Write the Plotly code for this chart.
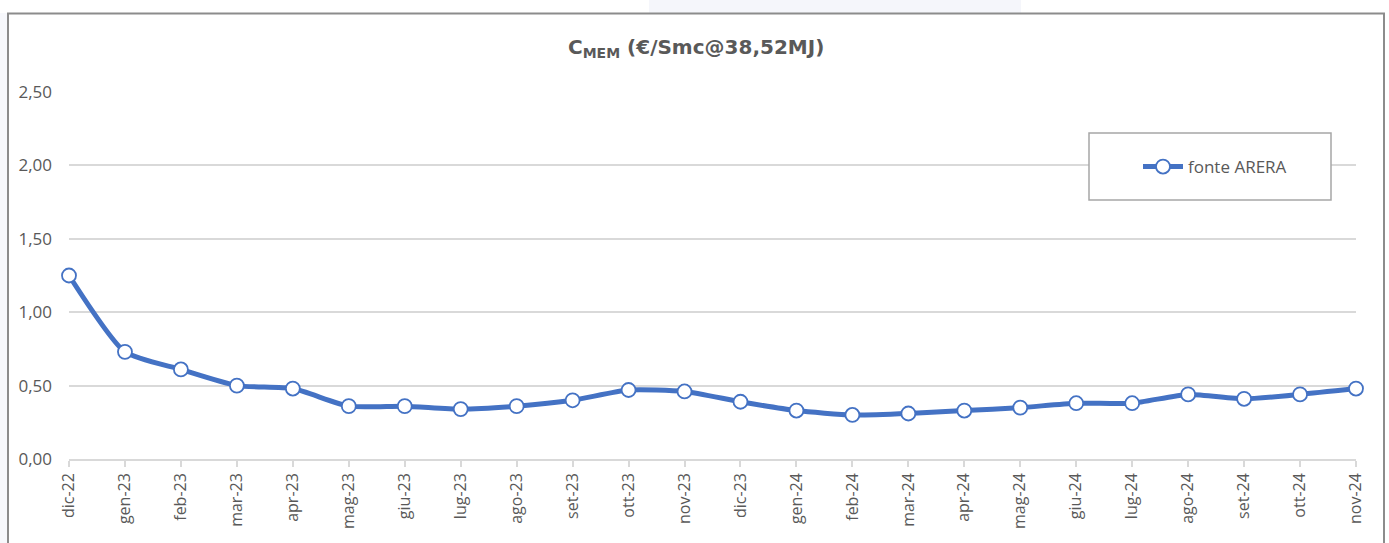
import plotly.graph_objects as go

months = ["dic-22", "gen-23", "feb-23", "mar-23", "apr-23", "mag-23", "giu-23", "lug-23",
          "ago-23", "set-23", "ott-23", "nov-23", "dic-23", "gen-24", "feb-24", "mar-24",
          "apr-24", "mag-24", "giu-24", "lug-24", "ago-24", "set-24", "ott-24", "nov-24"]
cmem = [1.25, 0.73, 0.61, 0.50, 0.48, 0.36, 0.36, 0.34,
        0.36, 0.40, 0.47, 0.46, 0.39, 0.33, 0.30, 0.31,
        0.33, 0.35, 0.38, 0.38, 0.44, 0.41, 0.44, 0.48]
y_ticks = [0, 0.5, 1.0, 1.5, 2.0, 2.5]
y_labels = ["0,00", "0,50", "1,00", "1,50", "2,00", "2,50"]
series_name = "fonte ARERA"
title_html = "<b>C<sub>MEM</sub> (€/Smc@38,52MJ)</b>"

W, H = 1389, 543
L, R, T, B = 69, 1356, 92, 459


def px(x):
    return (x - L) / (R - L)


def py(y):
    return (B - y) / (B - T)


BLUE = "#4472C4"
GRAY_TXT = "#595959"

fig = go.Figure()
fig.add_trace(go.Scatter(
    x=list(range(len(months))), y=cmem, name=series_name,
    mode="lines+markers", cliponaxis=False,
    line=dict(color=BLUE, width=5, shape="spline", smoothing=0.6),
    marker=dict(size=14, color="white", line=dict(color=BLUE, width=1.8)),
    showlegend=True,
))

shapes = [
    dict(type="rect", xref="paper", yref="paper", x0=px(649), x1=px(1021), y0=py(13), y1=py(0),
         fillcolor="#F5F6FB", line=dict(width=0), layer="below"),
    dict(type="rect", xref="paper", yref="paper", x0=px(0), x1=px(7), y0=py(543), y1=py(13),
         fillcolor="#F7F8FC", line=dict(width=0), layer="below"),
    dict(type="rect", xref="paper", yref="paper", x0=px(8), x1=px(1384), y0=py(560), y1=py(13.5),
         fillcolor="rgba(0,0,0,0)", line=dict(color="#8C8C8C", width=2), layer="below"),
    dict(type="rect", xref="paper", yref="paper", x0=px(1089), x1=px(1331), y0=py(200), y1=py(133),
         fillcolor="white", line=dict(color="#A6A6A6", width=1.5), layer="above"),
]

fig.update_layout(
    width=W, height=H,
    margin=dict(l=L, r=W - R, t=T, b=H - B, pad=0),
    paper_bgcolor="white", plot_bgcolor="white",
    font=dict(family="Open Sans, DejaVu Sans, sans-serif", color=GRAY_TXT, size=16),
    shapes=shapes,
    annotations=[dict(text=title_html, xref="paper", yref="paper", x=px(696), y=py(48),
                      xanchor="center", yanchor="middle", showarrow=False,
                      font=dict(family="DejaVu Sans, sans-serif", size=20, color="#595959"))],
    legend=dict(x=px(1138), y=py(167), xanchor="left", yanchor="middle",
                bgcolor="rgba(0,0,0,0)", borderwidth=0, itemwidth=40,
                font=dict(size=17, color=GRAY_TXT, family="Open Sans, sans-serif")),
    showlegend=True,
)

fig.update_xaxes(
    range=[0, len(months) - 1],
    tickmode="array", tickvals=list(range(len(months))), ticktext=months,
    tickangle=-90, showgrid=False, zeroline=False,
    showline=True, linecolor="#D9D9D9", linewidth=1.5,
    ticks="outside", ticklen=6, tickcolor="#D9D9D9", tickwidth=1.5,
    tickfont=dict(size=16, color=GRAY_TXT),
)
fig.update_yaxes(
    range=[0, 2.5], tickmode="array", tickvals=y_ticks, ticktext=y_labels,
    showgrid=True, gridcolor="#D9D9D9", gridwidth=1.5, zeroline=False,
    showline=False, ticks="", ticklabelstandoff=16,
    tickfont=dict(size=17, color=GRAY_TXT),
)

fig.write_html("out.html", config={"displayModeBar": False},
               post_script="document.body.style.margin='0';")
